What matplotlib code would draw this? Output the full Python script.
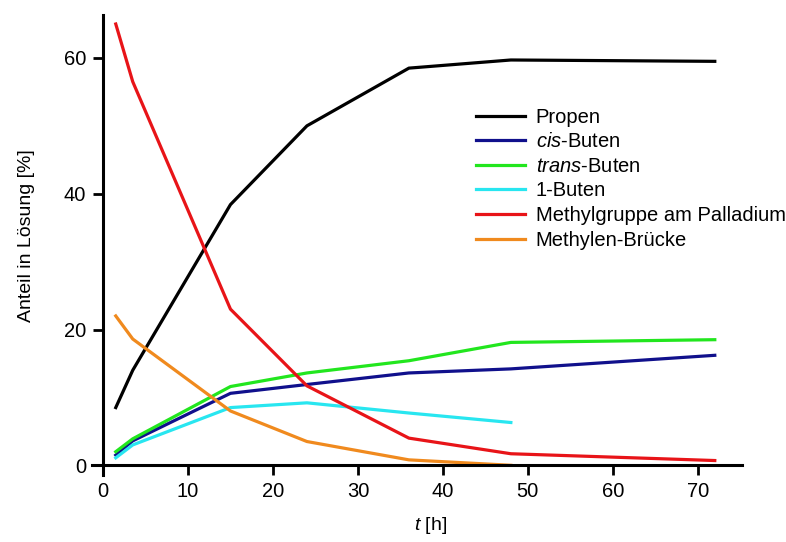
import numpy as np
import matplotlib.pyplot as plt

plt.rcParams['font.family'] = ['Liberation Sans', 'DejaVu Sans']
plt.rcParams['mathtext.fontset'] = 'custom'
plt.rcParams['mathtext.rm'] = 'Liberation Sans'
plt.rcParams['mathtext.it'] = 'Liberation Sans:italic'

# Zeitpunkte [h]
t = [1.5, 3.5, 15, 24, 36, 48, 72]
t_kurz = [1.5, 3.5, 15, 24, 36, 48]

propen = [8.5, 14.0, 38.4, 50.0, 58.5, 59.7, 59.5]
cis_buten = [1.5, 3.6, 10.6, 11.9, 13.6, 14.2, 16.2]
trans_buten = [2.0, 3.9, 11.6, 13.6, 15.4, 18.1, 18.5]
buten_1 = [1.1, 3.0, 8.5, 9.2, 7.7, 6.3]
methyl_pd = [65.0, 56.5, 23.0, 11.7, 4.0, 1.7, 0.7]
methylen = [22.0, 18.6, 8.0, 3.5, 0.8, 0.0]

fig = plt.figure(figsize=(7.86, 5.42), dpi=100)
ax = fig.add_axes([0.117, 0.124, 0.827, 0.848])

lw = 2.3
ax.plot(t, propen, color='black', lw=lw, label='Propen')
ax.plot(t, cis_buten, color='#10108c', lw=lw, label=r'$\mathit{cis}$-Buten')
ax.plot(t, trans_buten, color='#22e61e', lw=lw, label=r'$\mathit{trans}$-Buten')
ax.plot(t_kurz, buten_1, color='#28e6f0', lw=lw, label='1-Buten')
ax.plot(t, methyl_pd, color='#e81418', lw=lw, label='Methylgruppe am Palladium')
ax.plot(t_kurz, methylen, color='#f08a1e', lw=lw, label='Methylen-Brücke')

ax.set_xlim(-1.3, 75.2)
ax.set_ylim(-1.4, 66.3)
ax.spines['left'].set_position(('data', 0))
ax.spines['bottom'].set_position(('data', 0))
ax.spines['top'].set_visible(False)
ax.spines['right'].set_visible(False)
for s in ['left', 'bottom']:
    ax.spines[s].set_linewidth(2.2)
ax.set_xticks(np.arange(0, 80, 10))
ax.set_yticks([0, 20, 40, 60])
ax.tick_params(width=2, length=7, labelsize=14.5, pad=5)

fig.text(0.034, 0.565, 'Anteil in Lösung [%]', rotation=90, ha='center', va='center', fontsize=14)
fig.text(0.548, 0.030, r'$t$ [h]', ha='center', va='center', fontsize=14)

ax.legend(loc='upper left', bbox_to_anchor=(0.583, 0.835), bbox_transform=fig.transFigure,
          frameon=False, fontsize=14.5, handlelength=2.4, labelspacing=0.28, handletextpad=0.55)

fig.savefig('out.png', dpi=100)
